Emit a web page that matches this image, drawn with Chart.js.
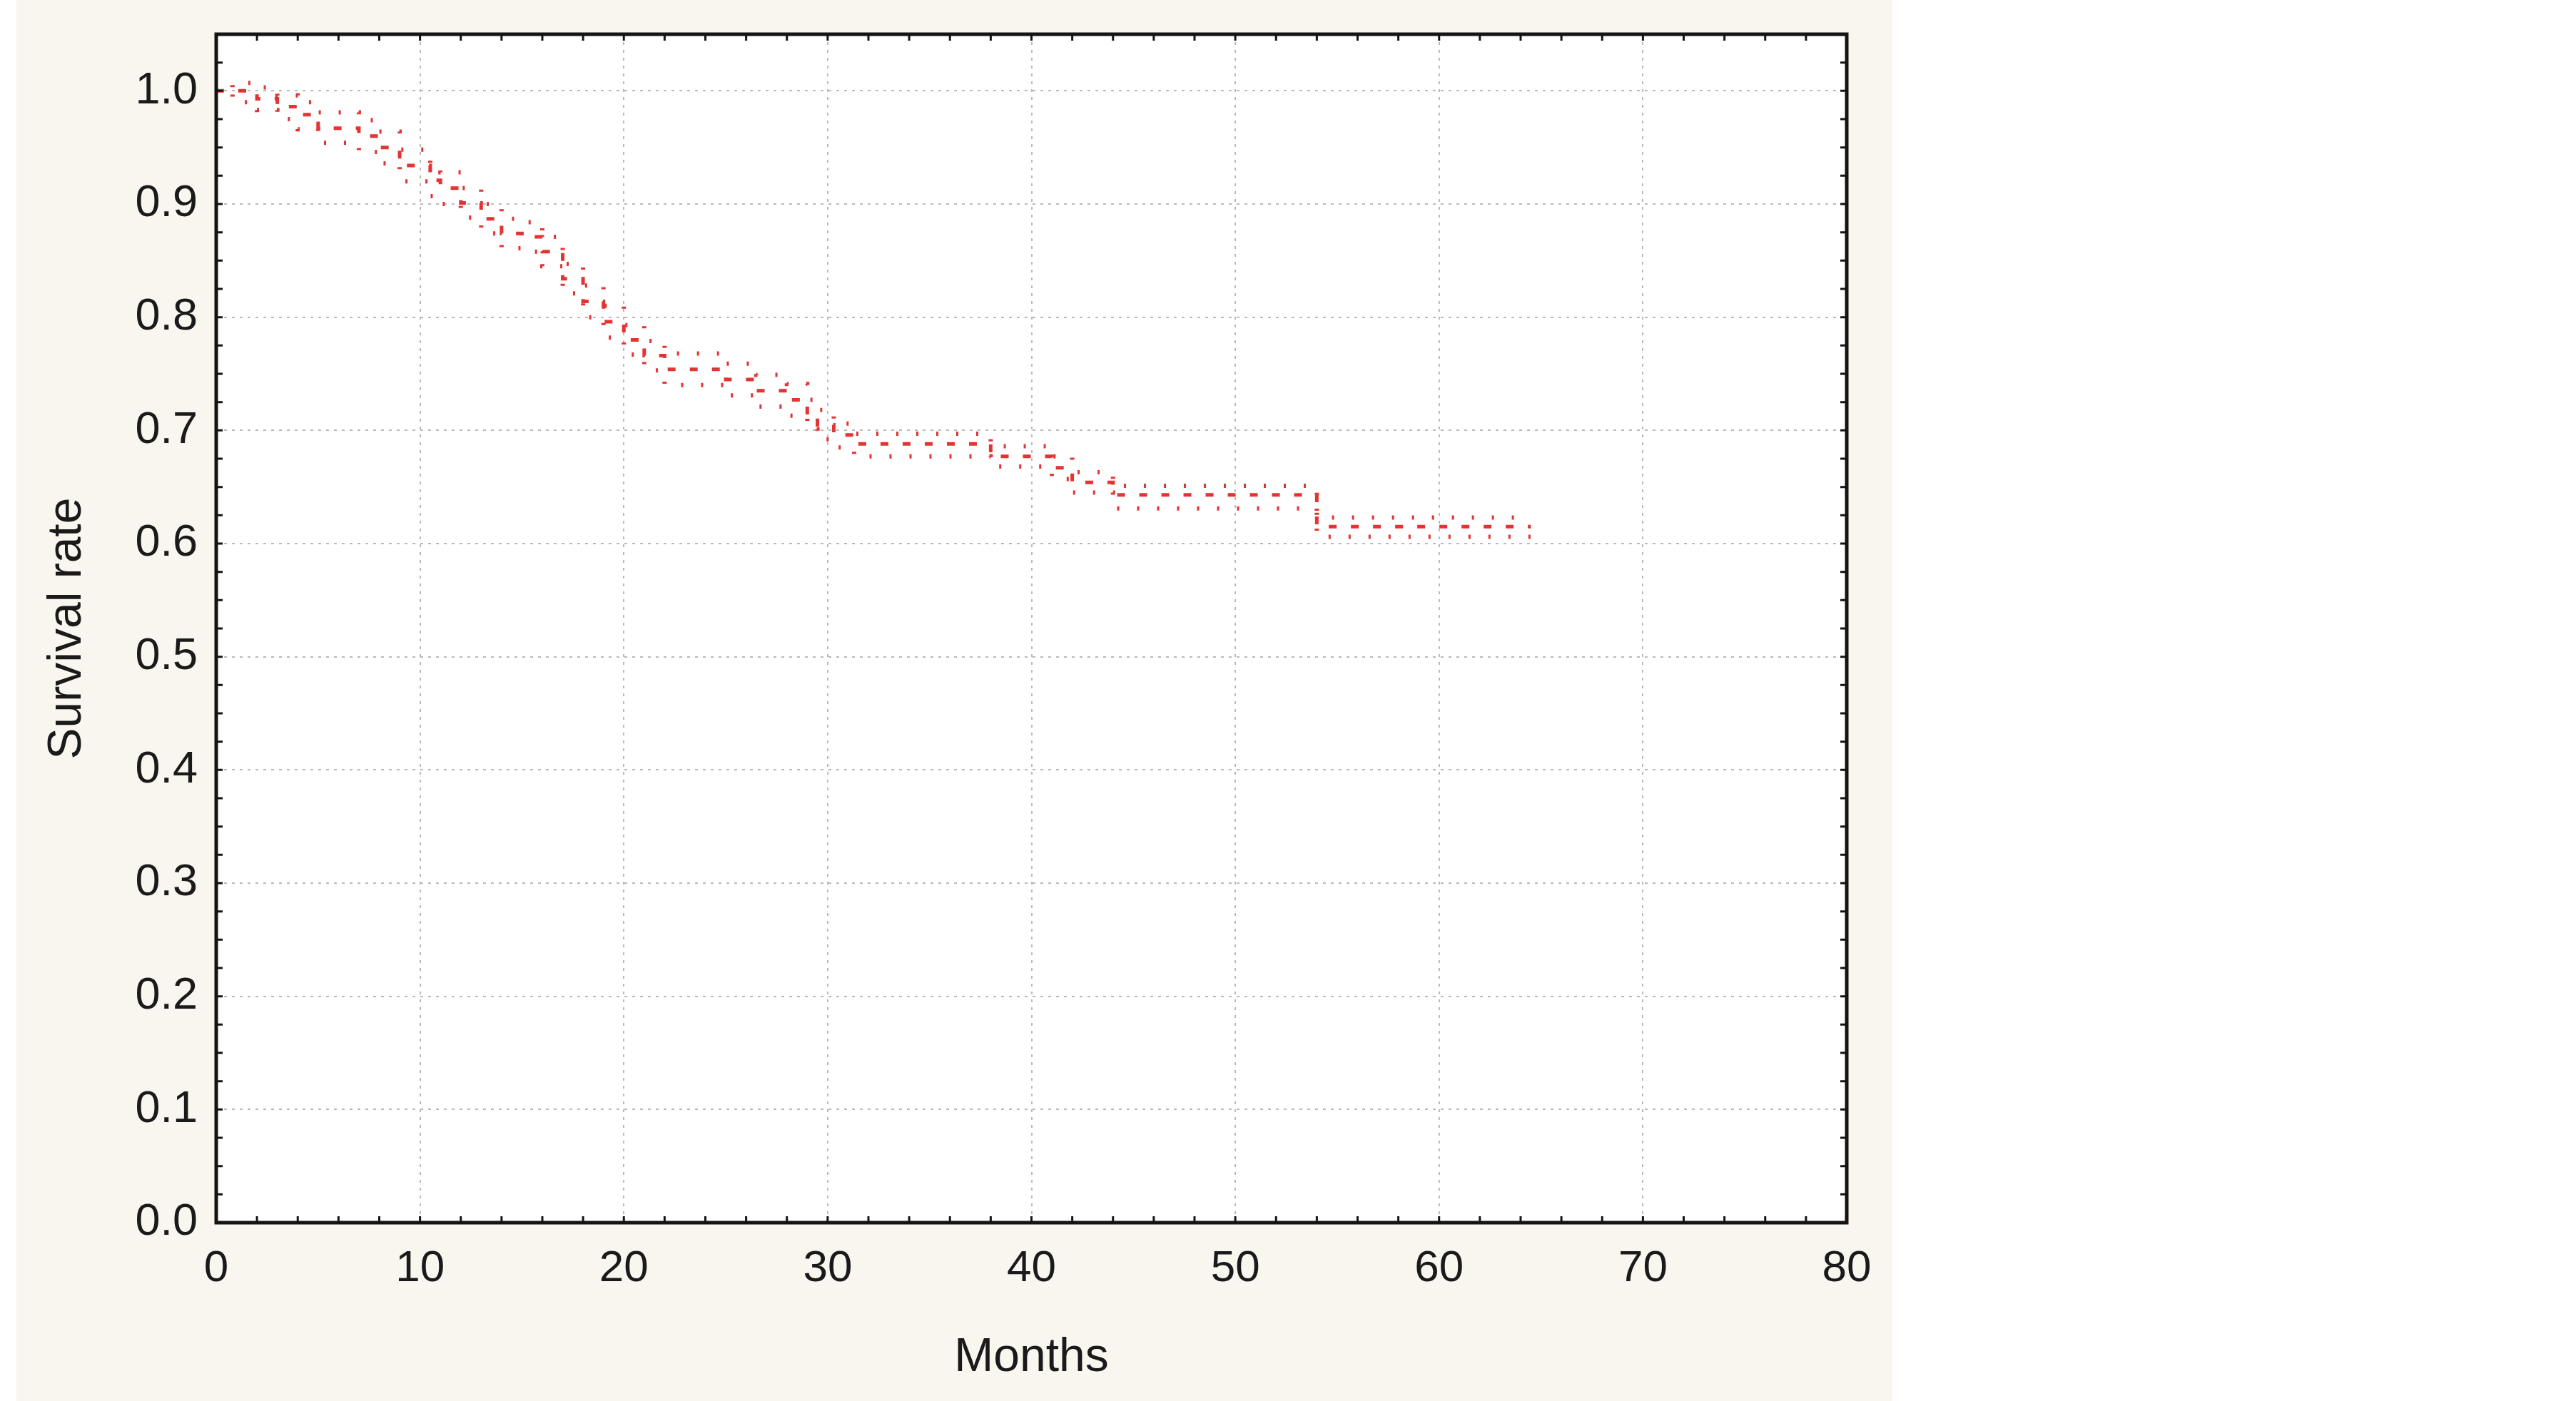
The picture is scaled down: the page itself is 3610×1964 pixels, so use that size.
<!DOCTYPE html>
<html>
<head>
<meta charset="UTF-8">
<title>Survival rate</title>
<style>
html, body { margin: 0; padding: 0; background: #fff; }
canvas { display: block; }
</style>
</head>
<body>
<canvas id="survChart" width="3610" height="1964"></canvas>
<script src="https://cdn.jsdelivr.net/npm/chart.js"></script>
<script>
// step times (months) and values
const months   = [0, 0.8, 2, 3, 4, 5, 7, 8, 9, 10.5, 11, 12, 13, 14, 15, 16, 17, 18, 19, 20, 21, 22, 25, 26.5, 28, 29, 29.5, 30.3, 31.3, 38, 41, 42, 44, 54, 64.5];
const survival = [1.0, 1.0, .993, .986, .979, .967, .960, .950, .934, .921, .914, .901, .887, .874, .871, .858, .834, .814, .796, .780, .766, .754, .745, .735, .727, .714, .705, .696, .688, .677, .667, .654, .643, .615, .615];
const upperCI  = [1.0, 1.007, 1.003, .996, .990, .981, .974, .964, .948, .935, .928, .914, .900, .887, .884, .871, .847, .828, .810, .793, .779, .768, .759, .749, .741, .727, .718, .706, .697, .686, .677, .663, .651, .623, .623];
const lowerCI  = [1.0, .990, .983, .975, .966, .954, .946, .936, .920, .907, .900, .888, .874, .861, .858, .845, .821, .800, .782, .767, .753, .740, .731, .721, .713, .701, .692, .685, .677, .668, .657, .645, .631, .606, .606];

const xTicks = [0, 10, 20, 30, 40, 50, 60, 70, 80];
const yTicks = [0, 0.1, 0.2, 0.3, 0.4, 0.5, 0.6, 0.7, 0.8, 0.9, 1.0];

const RED = '#e23434';
const FONT = "'Liberation Sans', Arial, sans-serif";

function pts(vals) {
  return months.map((m, i) => ({ x: m, y: vals[i] }));
}

// background, white plot box, inward minor ticks and black frame
const frame = {
  id: 'frame',
  beforeDraw(chart) {
    const { ctx, chartArea: a } = chart;
    ctx.save();
    ctx.fillStyle = '#ffffff';
    ctx.fillRect(0, 0, chart.width, chart.height);
    ctx.fillStyle = '#f9f6ef';
    ctx.fillRect(23, 0, 2629, chart.height);
    ctx.fillStyle = '#ffffff';
    ctx.fillRect(a.left, a.top, a.right - a.left, a.bottom - a.top);
    ctx.restore();
  },
  afterDraw(chart) {
    const { ctx, chartArea: a, scales: { x, y } } = chart;
    ctx.save();
    ctx.strokeStyle = '#141414';
    ctx.lineWidth = 3;
    ctx.beginPath();
    for (let m = 0; m <= 80; m += 2) {
      const px = x.getPixelForValue(m);
      ctx.moveTo(px, a.bottom); ctx.lineTo(px, a.bottom - 9);
      ctx.moveTo(px, a.top); ctx.lineTo(px, a.top + 9);
    }
    for (let k = 0; k <= 42; k++) {
      const py = y.getPixelForValue(k * 0.025);
      ctx.moveTo(a.left, py); ctx.lineTo(a.left + 9, py);
      ctx.moveTo(a.right, py); ctx.lineTo(a.right - 9, py);
    }
    ctx.stroke();
    ctx.lineWidth = 5;
    ctx.strokeRect(a.left, a.top, a.right - a.left, a.bottom - a.top);
    ctx.restore();
  }
};

new Chart(document.getElementById('survChart'), {
  type: 'line',
  data: {
    datasets: [
      {
        label: 'Upper',
        data: pts(upperCI),
        stepped: true,
        borderColor: RED,
        borderWidth: 6,
        borderDash: [3, 25],
        pointRadius: 0,
        fill: false
      },
      {
        label: 'Survival',
        data: pts(survival),
        stepped: true,
        borderColor: RED,
        borderWidth: 5,
        borderDash: [11, 20],
        pointRadius: 0,
        fill: false
      },
      {
        label: 'Lower',
        data: pts(lowerCI),
        stepped: true,
        borderColor: RED,
        borderWidth: 6,
        borderDash: [3, 25],
        pointRadius: 0,
        fill: false
      }
    ]
  },
  options: {
    responsive: false,
    animation: false,
    devicePixelRatio: 1,
    layout: { padding: { left: 0, top: 48, right: 1022, bottom: 0 } },
    plugins: {
      legend: { display: false },
      tooltip: { enabled: false }
    },
    scales: {
      x: {
        type: 'linear',
        min: 0,
        max: 80,
        afterBuildTicks: s => { s.ticks = xTicks.map(v => ({ value: v })); },
        afterFit: s => { s.height = 250; },
        border: { display: false, dash: [4, 7] },
        grid: { color: '#b9b9b9', lineWidth: 2, drawTicks: false },
        ticks: {
          padding: 28,
          maxRotation: 0,
          color: '#1a1a1a',
          font: { family: FONT, size: 62 }
        },
        title: {
          display: true,
          text: 'Months',
          color: '#1a1a1a',
          font: { family: FONT, size: 66 },
          padding: { top: 0, bottom: 21 }
        }
      },
      y: {
        min: 0,
        max: 1.05,
        afterBuildTicks: s => { s.ticks = yTicks.map(v => ({ value: v })); },
        afterFit: s => { s.width = 303; s.paddingTop = 0; s.paddingBottom = 0; },
        border: { display: false, dash: [4, 7] },
        grid: { color: '#b9b9b9', lineWidth: 2, drawTicks: false },
        ticks: {
          padding: 26,
          color: '#1a1a1a',
          font: { family: FONT, size: 63 },
          callback: v => v.toFixed(1)
        },
        title: {
          display: true,
          text: 'Survival rate',
          color: '#1a1a1a',
          font: { family: FONT, size: 66 },
          padding: { top: 55, bottom: 0 }
        }
      }
    }
  },
  plugins: [frame]
});
</script>
</body>
</html>
